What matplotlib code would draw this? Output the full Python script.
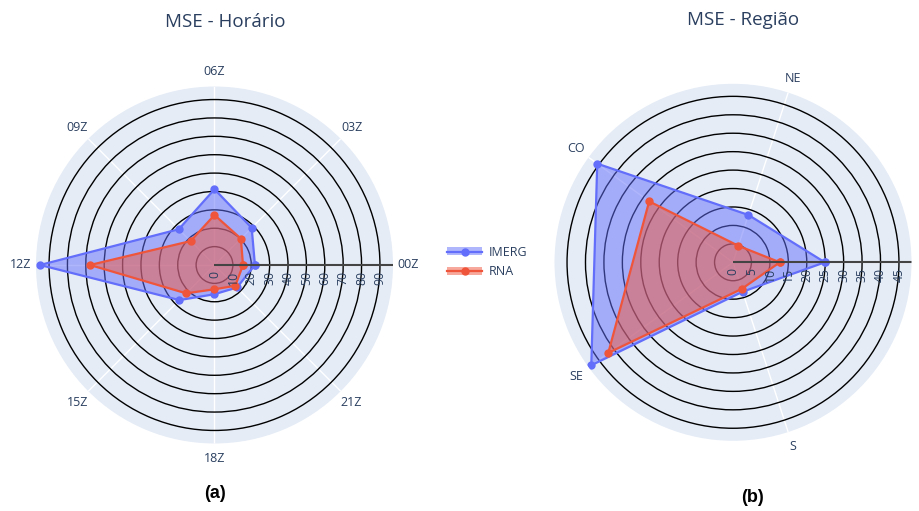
import numpy as np
import matplotlib
matplotlib.use("Agg")
import matplotlib.pyplot as plt
from matplotlib.lines import Line2D
from matplotlib.patches import Patch
from matplotlib.legend_handler import HandlerTuple

# MSE per synoptic hour
hours = ["00Z", "03Z", "06Z", "09Z", "12Z", "15Z", "18Z", "21Z"]
imerg_hour = [22.0, 28.6, 41.2, 27.5, 94.9, 27.0, 15.9, 17.3]
rna_hour = [15.5, 20.3, 27.2, 18.4, 67.7, 21.8, 13.2, 16.0]
hour_ticks = [0, 10, 20, 30, 40, 50, 60, 70, 80, 90]
hour_rmax = 97.1

# MSE per region
regions = ["N", "NE", "CO", "SE", "S"]
imerg_region = [24.9, 13.5, 45.5, 47.5, 8.4]
rna_region = [12.7, 4.7, 28.1, 41.8, 7.6]
region_ticks = [0, 5, 10, 15, 20, 25, 30, 35, 40, 45]
region_rmax = 48.4

series_names = ["IMERG", "RNA"]
series_colors = ["#636efa", "#EF553B"]

TXT = "#2a3f5f"
FONT = "Open Sans"

W, H = 920, 511
fig = plt.figure(figsize=(W / 100, H / 100), dpi=100)


def polar_axes(cx, cy, r):
    """Polar axes centred at pixel (cx, cy) measured from the top-left."""
    return fig.add_axes([(cx - r) / W, (H - cy - r) / H, 2 * r / W, 2 * r / H],
                        projection="polar")


def draw_radar(ax, cats, values, ticks, rmax):
    n = len(cats)
    theta = np.arange(n) * 2 * np.pi / n
    ax.set_facecolor("#e5ecf6")
    ax.spines["polar"].set_visible(False)
    ax.set_ylim(0, rmax)
    ax.set_yticks(ticks[1:])
    ax.set_yticklabels([])
    ax.yaxis.grid(True, color="black", lw=1.0)
    ax.set_xticks(theta)
    ax.set_xticklabels(cats, color=TXT, fontsize=9, family=FONT)
    ax.xaxis.grid(True, color="white", lw=1.0)
    ax.tick_params(axis="x", pad=4, length=0)
    ax.set_axisbelow(True)

    for vals, color in zip(values, series_colors):
        t = np.append(theta, theta[0])
        r = np.append(vals, vals[0])
        ax.fill(t, r, color=color, alpha=0.5, lw=0, zorder=2)
        ax.plot(t, r, color=color, lw=1.6, marker="o", ms=5, zorder=3)

    # radial axis line along 0 degrees with rotated tick labels beneath it
    ax.plot([0, 0], [0, rmax], color="#444444", lw=1.5, zorder=4,
            solid_capstyle="butt")
    for v in ticks:
        ax.annotate(str(v), xy=(0, v), xytext=(0, -4), textcoords="offset points",
                    rotation=90, ha="center", va="top", color=TXT,
                    fontsize=8.8, family=FONT, zorder=5)


ax1 = polar_axes(214.5, 265, 178.5)
draw_radar(ax1, hours, [imerg_hour, rna_hour], hour_ticks, hour_rmax)

ax2 = polar_axes(733, 262.3, 178.5)
draw_radar(ax2, regions, [imerg_region, rna_region], region_ticks, region_rmax)

fig.text(225 / W, 1 - 22 / H, "MSE - Horário", ha="center", va="center",
         color=TXT, fontsize=13.5, family=FONT)
fig.text(743 / W, 1 - 20 / H, "MSE - Região", ha="center", va="center",
         color=TXT, fontsize=13.5, family=FONT)

fig.text(215 / W, 1 - 493 / H, "(a)", ha="center", va="center",
         fontsize=13, fontweight="bold", family="Liberation Sans", color="black")
fig.text(752 / W, 1 - 497 / H, "(b)", ha="center", va="center",
         fontsize=13, fontweight="bold", family="Liberation Sans", color="black")

handles = [(Patch(facecolor=c, alpha=0.5, lw=0),
            Line2D([], [], color=c, lw=1.6, marker="o", ms=5))
           for c in series_colors]
leg = fig.legend(handles, series_names, loc="center left",
                 bbox_to_anchor=(436 / W, 1 - 262 / H), frameon=False,
                 handler_map={tuple: HandlerTuple(ndivide=1, pad=0)},
                 handlelength=2.8, handleheight=0.6, handletextpad=0.5,
                 labelspacing=0.5, prop={"family": FONT, "size": 9})
for t in leg.get_texts():
    t.set_color(TXT)

fig.savefig("out.png", dpi=100)
